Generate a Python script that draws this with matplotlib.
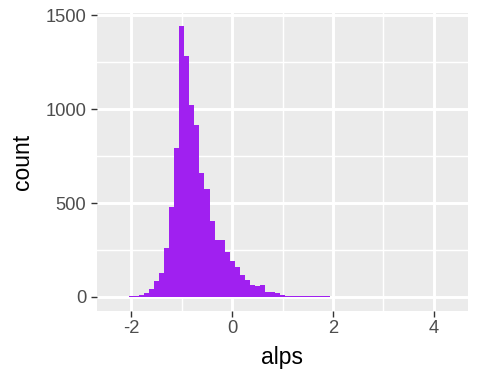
import numpy as np
import matplotlib
matplotlib.use("Agg")
import matplotlib.pyplot as plt

plt.rcParams['font.family'] = ['Liberation Sans', 'DejaVu Sans']

# bin centres (binwidth 0.1) and counts
bin_centers = [round(-2.3 + 0.1 * i, 1) for i in range(67)]
counts = [1, 0, 1, 5, 5, 8, 23, 44, 87, 130, 263, 477, 792, 1443, 1283, 1021,
          915, 658, 573, 407, 301, 306, 237, 189, 157, 119, 92, 66, 60, 66,
          28, 28, 23, 12, 7, 7, 7, 3, 3, 3, 3, 3, 3,
          1, 1, 1, 0, 1, 0, 1, 0, 0, 1, 0, 0, 0, 1, 0, 0, 0, 0, 1, 0, 0, 0, 0, 1]
binwidth = 0.1
x_ticks = [-2, 0, 2, 4]
x_labels = ["-2", "0", "2", "4"]
y_ticks = [0, 500, 1000, 1500]
y_labels = ["0", "500", "1000", "1500"]

W, H = 480, 384
fig = plt.figure(figsize=(W/100, H/100), dpi=100)
ax = fig.add_axes([97/W, 1-310.5/H, (468-97)/W, (310.5-12.5)/H])
ax.set_facecolor('#EBEBEB')

ax.bar(bin_centers, counts, width=binwidth, color='#A020F0', linewidth=0, zorder=3)

lo = bin_centers[0] - binwidth/2
hi = bin_centers[-1] + binwidth/2
pad = 0.05 * (hi - lo)
ax.set_xlim(lo - pad, hi + pad)
ymax = max(counts)
ax.set_ylim(-0.05 * ymax, 1.05 * ymax)

ax.set_xticks(x_ticks)
ax.set_xticklabels(x_labels)
ax.set_yticks(y_ticks)
ax.set_yticklabels(y_labels)
ax.set_xticks([-1, 1, 3], minor=True)
ax.set_yticks([250, 750, 1250], minor=True)

ax.grid(which='major', color='white', linewidth=2.1, zorder=1)
ax.grid(which='minor', color='white', linewidth=1.05, zorder=1)
ax.set_axisbelow(True)
for s in ax.spines.values():
    s.set_visible(False)

ax.tick_params(which='major', length=4.3, width=1.0, color='#333333',
               labelsize=13.2, labelcolor='#4D4D4D')
ax.tick_params(axis='x', which='major', pad=2.8)
ax.tick_params(axis='y', which='major', pad=3.5)
ax.tick_params(which='minor', length=0)

# axis titles placed where the reference has them
fig.text(282.5/W, 1-364/H, 'alps', fontsize=16.5, color='black',
         ha='center', va='baseline')
fig.text(29/W, 1-161.5/H, 'count', fontsize=16.5, color='black',
         ha='center', va='baseline', rotation=90, rotation_mode='anchor')

fig.savefig('out.png', dpi=100)
